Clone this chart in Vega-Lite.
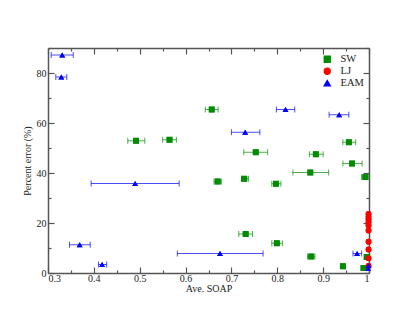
{
  "$schema": "https://vega.github.io/schema/vega-lite/v6.json",
  "width": 321,
  "height": 225,
  "autosize": {"type": "none"},
  "padding": {"left": 48, "top": 48, "right": 46, "bottom": 48},
  "background": "white",
  "config": {
    "view": {"stroke": null},
    "font": "Liberation Serif, Times New Roman, serif",
    "axis": {
      "grid": false,
      "domainColor": "#555555",
      "domainWidth": 1.5,
      "tickColor": "#555555",
      "tickWidth": 1.2,
      "labelFont": "Liberation Serif, Times New Roman, serif",
      "labelFontSize": 10,
      "labelColor": "#222222",
      "titleFont": "Liberation Serif, Times New Roman, serif",
      "titleFontSize": 10,
      "titleFontWeight": "normal",
      "titleColor": "#222222"
    },
    "legend": {
      "labelFont": "Liberation Serif, Times New Roman, serif",
      "labelFontSize": 10.5,
      "labelColor": "#222222",
      "rowPadding": -3,
      "padding": 0
    }
  },
  "data": {
    "values": [
      {"series": "SW", "x": 0.657, "y": 65.4, "xlo": 0.643, "xhi": 0.671},
      {"series": "SW", "x": 0.492, "y": 52.9, "xlo": 0.474, "xhi": 0.511},
      {"series": "SW", "x": 0.565, "y": 53.3, "xlo": 0.55, "xhi": 0.58},
      {"series": "SW", "x": 0.956, "y": 52.3, "xlo": 0.943, "xhi": 0.971},
      {"series": "SW", "x": 0.753, "y": 48.3, "xlo": 0.727, "xhi": 0.779},
      {"series": "SW", "x": 0.884, "y": 47.5, "xlo": 0.87, "xhi": 0.9},
      {"series": "SW", "x": 0.963, "y": 43.8, "xlo": 0.943, "xhi": 0.985},
      {"series": "SW", "x": 0.872, "y": 40.2, "xlo": 0.834, "xhi": 0.912},
      {"series": "SW", "x": 0.992, "y": 38.4, "xlo": 0.984, "xhi": 0.998},
      {"series": "SW", "x": 0.67, "y": 36.6, "xlo": 0.662, "xhi": 0.678},
      {"series": "SW", "x": 0.728, "y": 37.7, "xlo": 0.722, "xhi": 0.737},
      {"series": "SW", "x": 0.797, "y": 35.7, "xlo": 0.788, "xhi": 0.808},
      {"series": "SW", "x": 0.731, "y": 15.6, "xlo": 0.716, "xhi": 0.746},
      {"series": "SW", "x": 0.799, "y": 11.9, "xlo": 0.788, "xhi": 0.811},
      {"series": "SW", "x": 0.874, "y": 6.6, "xlo": 0.866, "xhi": 0.882},
      {"series": "SW", "x": 0.943, "y": 2.7, "xlo": 0.94, "xhi": 0.946},
      {"series": "SW", "x": 0.995, "y": 6.4, "xlo": 0.992, "xhi": 0.998},
      {"series": "SW", "x": 0.988, "y": 2.0, "xlo": 0.985, "xhi": 0.992},
      {"series": "LJ", "x": 0.999, "y": 23.6},
      {"series": "LJ", "x": 0.999, "y": 22.5},
      {"series": "LJ", "x": 0.999, "y": 21.5},
      {"series": "LJ", "x": 0.999, "y": 20.4},
      {"series": "LJ", "x": 0.999, "y": 19.1},
      {"series": "LJ", "x": 0.999, "y": 17.0},
      {"series": "LJ", "x": 0.999, "y": 12.5},
      {"series": "LJ", "x": 0.999, "y": 9.4},
      {"series": "LJ", "x": 0.999, "y": 5.9},
      {"series": "LJ", "x": 0.999, "y": 2.8},
      {"series": "EAM", "x": 0.331, "y": 87.2, "xlo": 0.307, "xhi": 0.355},
      {"series": "EAM", "x": 0.329, "y": 78.4, "xlo": 0.317, "xhi": 0.341},
      {"series": "EAM", "x": 0.818, "y": 65.4, "xlo": 0.798, "xhi": 0.838},
      {"series": "EAM", "x": 0.935, "y": 63.3, "xlo": 0.913, "xhi": 0.956},
      {"series": "EAM", "x": 0.73, "y": 56.3, "xlo": 0.7, "xhi": 0.762},
      {"series": "EAM", "x": 0.49, "y": 35.8, "xlo": 0.394, "xhi": 0.586},
      {"series": "EAM", "x": 0.369, "y": 11.3, "xlo": 0.347, "xhi": 0.392},
      {"series": "EAM", "x": 0.418, "y": 3.4, "xlo": 0.41, "xhi": 0.428},
      {"series": "EAM", "x": 0.675, "y": 7.8, "xlo": 0.582, "xhi": 0.769},
      {"series": "EAM", "x": 0.974, "y": 7.8, "xlo": 0.965, "xhi": 0.984},
      {"series": "EAM", "x": 0.999, "y": 3.0},
      {"series": "EAM", "x": 0.998, "y": 1.8}
    ]
  },
  "layer": [
    {
      "mark": {"type": "point", "filled": true, "size": 34, "opacity": 1, "clip": false},
      "encoding": {
        "x": {
          "field": "x", "type": "quantitative",
          "scale": {"domain": [0.3, 1.0], "nice": false, "zero": false},
          "axis": {
            "orient": "top", "labels": false, "title": null,
            "values": [0.3, 0.35, 0.4, 0.45, 0.5, 0.55, 0.6, 0.65, 0.7, 0.75, 0.8, 0.85, 0.9, 0.95, 1.0],
            "tickSize": {"condition": {"test": "round(datum.value*100) % 10 == 0", "value": -6}, "value": -3}
          }
        },
        "y": {
          "field": "y", "type": "quantitative",
          "scale": {"domain": [0, 90], "nice": false, "zero": true},
          "axis": {
            "orient": "right", "labels": false, "title": null,
            "values": [0, 10, 20, 30, 40, 50, 60, 70, 80, 90],
            "tickSize": {"condition": {"test": "datum.value % 20 == 0", "value": -6}, "value": -3}
          }
        },
        "color": {
          "field": "series", "type": "nominal",
          "scale": {"domain": ["SW", "LJ", "EAM"], "range": ["#008b00", "#ff0000", "#0000ff"]},
          "legend": {
            "title": null,
            "orient": "none",
            "legendX": 274,
            "legendY": 6,
            "padding": 0,
            "rowPadding": -3,
            "labelOffset": 8,
            "symbolSize": 34
          }
        },
        "shape": {
          "field": "series", "type": "nominal",
          "scale": {"domain": ["SW", "LJ", "EAM"], "range": ["square", "circle", "triangle-up"]},
          "legend": {
            "title": null,
            "orient": "none",
            "legendX": 274,
            "legendY": 6,
            "padding": 0,
            "rowPadding": -3,
            "labelOffset": 8,
            "symbolSize": 34
          }
        }
      }
    },
    {
      "transform": [{"filter": "isValid(datum.xlo)"}],
      "mark": {"type": "rule", "strokeWidth": 1, "opacity": 0.7},
      "encoding": {
        "x": {
          "field": "xlo", "type": "quantitative",
          "title": "Ave. SOAP",
          "axis": {
            "orient": "bottom",
            "values": [0.3, 0.35, 0.4, 0.45, 0.5, 0.55, 0.6, 0.65, 0.7, 0.75, 0.8, 0.85, 0.9, 0.95, 1.0],
            "labelExpr": "round(datum.value*100) % 10 == 0 ? format(datum.value, '~g') : ''",
            "tickSize": {"condition": {"test": "round(datum.value*100) % 10 == 0", "value": -6}, "value": -3},
            "labelPadding": 6,
            "titlePadding": 0
          }
        },
        "x2": {"field": "xhi"},
        "y": {
          "field": "y", "type": "quantitative",
          "title": "Percent error (%)",
          "axis": {
            "orient": "left",
            "values": [0, 10, 20, 30, 40, 50, 60, 70, 80, 90],
            "labelExpr": "datum.value % 20 == 0 ? datum.label : ''",
            "tickSize": {"condition": {"test": "datum.value % 20 == 0", "value": -6}, "value": -3},
            "labelPadding": 8,
            "titlePadding": 4
          }
        },
        "color": {"field": "series", "type": "nominal"}
      }
    },
    {
      "transform": [{"filter": "isValid(datum.xlo)"}],
      "mark": {"type": "tick", "orient": "vertical", "size": 6, "thickness": 1, "opacity": 0.7},
      "encoding": {
        "x": {"field": "xlo", "type": "quantitative", "axis": null},
        "y": {"field": "y", "type": "quantitative", "axis": null},
        "color": {"field": "series", "type": "nominal"}
      }
    },
    {
      "transform": [{"filter": "isValid(datum.xhi)"}],
      "mark": {"type": "tick", "orient": "vertical", "size": 6, "thickness": 1, "opacity": 0.7},
      "encoding": {
        "x": {"field": "xhi", "type": "quantitative", "axis": null},
        "y": {"field": "y", "type": "quantitative", "axis": null},
        "color": {"field": "series", "type": "nominal"}
      }
    },
    {
      "mark": {"type": "point", "filled": true, "size": 34, "opacity": 1, "clip": false},
      "encoding": {
        "x": {"field": "x", "type": "quantitative", "axis": null},
        "y": {"field": "y", "type": "quantitative", "axis": null},
        "color": {"field": "series", "type": "nominal"},
        "shape": {"field": "series", "type": "nominal"}
      }
    }
  ],
  "resolve": {"axis": {"x": "independent", "y": "independent"}}
}
